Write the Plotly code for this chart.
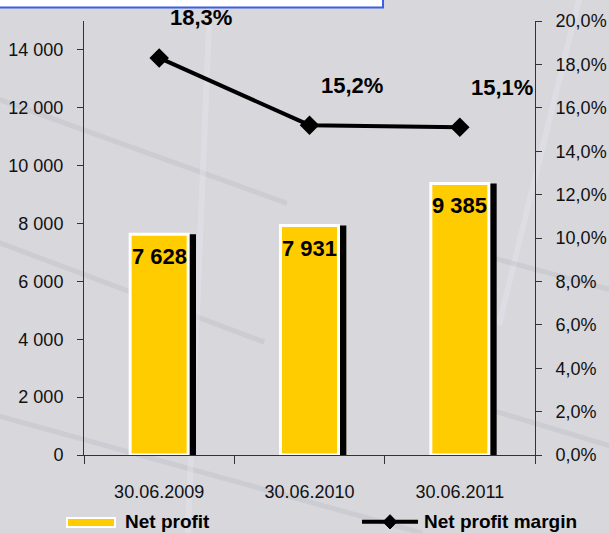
import plotly.graph_objects as go

# Chart data
periods = ["30.06.2009", "30.06.2010", "30.06.2011"]
net_profit = [7628, 7931, 9385]
profit_margin = [0.183, 0.152, 0.151]
left_ticks = [0, 2000, 4000, 6000, 8000, 10000, 12000, 14000]
right_ticks = [0, 0.02, 0.04, 0.06, 0.08, 0.10, 0.12, 0.14, 0.16, 0.18, 0.20]
series_names = ["Net profit", "Net profit margin"]

FONT = "Liberation Sans, Arial, sans-serif"
YELLOW = "#FFCC00"
BG = "#d7d7dc"

fig = go.Figure()

# Black drop shadow on the right side of each bar
fig.add_trace(go.Bar(
    x=periods, y=net_profit, width=0.05, offset=0.195,
    marker=dict(color="black", line=dict(width=0)),
    showlegend=False, hoverinfo="skip",
))

# Net profit bars
fig.add_trace(go.Bar(
    x=periods, y=net_profit, width=0.386, offset=-0.193,
    name=series_names[0],
    marker=dict(color=YELLOW, line=dict(color="white", width=3)),
    showlegend=False,
))

# Net profit margin line on the secondary axis
fig.add_trace(go.Scatter(
    x=periods, y=profit_margin, yaxis="y2", mode="lines+markers",
    name=series_names[1],
    line=dict(color="black", width=4),
    marker=dict(symbol="diamond", size=15, color="black"),
    showlegend=False,
))

label_font = dict(family=FONT, size=22, color="black", weight="bold")
annotations = []
for p, v in zip(periods, net_profit):
    annotations.append(dict(
        x=p, y=v, xref="x", yref="y", yanchor="top", yshift=-8,
        text=f"{v:,}".replace(",", " "), showarrow=False, font=label_font,
    ))
for p, m in zip(periods, profit_margin):
    annotations.append(dict(
        x=p, y=m, xref="x", yref="y2", xshift=42, yshift=40,
        text=f"{m * 100:.1f}%".replace(".", ","), showarrow=False, font=label_font,
    ))

# Legend drawn along the bottom edge (paper coordinates)
legend_font = dict(family=FONT, size=19, color="black", weight="bold")
LEG_Y = -0.154
annotations += [
    dict(x=0.086, y=LEG_Y, xref="paper", yref="paper", xanchor="left", yanchor="middle",
         text=series_names[0], showarrow=False, font=legend_font),
    dict(x=0.749, y=LEG_Y, xref="paper", yref="paper", xanchor="left", yanchor="middle",
         text=series_names[1], showarrow=False, font=legend_font),
]

# Soft streaks in the backdrop
streak = dict(color="rgba(180,180,192,0.30)", width=5)
light = dict(color="rgba(232,232,242,0.35)", width=6)
shapes = [
    dict(type="line", xref="paper", yref="paper", x0=-0.19, y0=0.82, x1=0.45, y1=0.58, line=streak, layer="below"),
    dict(type="line", xref="paper", yref="paper", x0=-0.19, y0=0.49, x1=0.40, y1=0.26, line=streak, layer="below"),
    dict(type="line", xref="paper", yref="paper", x0=-0.19, y0=0.09, x1=0.75, y1=-0.18, line=streak, layer="below"),
    dict(type="line", xref="paper", yref="paper", x0=0.28, y0=1.06, x1=0.23, y1=-0.18, line=light, layer="below"),
    dict(type="line", xref="paper", yref="paper", x0=1.1, y0=1.06, x1=0.92, y1=0.3, line=light, layer="below"),
    dict(type="line", xref="paper", yref="paper", x0=0.85, y0=0.47, x1=1.17, y1=0.38, line=streak, layer="below"),
    dict(type="line", xref="paper", yref="paper", x0=0.85, y0=0.12, x1=1.17, y1=0.02, line=streak, layer="below"),
    # title box peeking in at the top edge
    dict(type="rect", xref="paper", yref="paper", x0=-0.2, y0=1.031, x1=0.663, y1=1.2,
         fillcolor="white", line=dict(color="#3b5ee6", width=2)),
    # legend keys
    dict(type="rect", xref="paper", yref="paper", x0=-0.0377, y0=-0.1452, x1=0.0687, y1=-0.1659,
         fillcolor=YELLOW, line=dict(color="white", width=2)),
    dict(type="line", xref="paper", yref="paper", x0=0.6164, y0=LEG_Y, x1=0.7406, y1=LEG_Y,
         line=dict(color="black", width=4)),
    dict(type="path", xref="paper", yref="paper",
         path=f"M 0.6630 {LEG_Y} L 0.6785 {LEG_Y + 0.0165} L 0.6940 {LEG_Y} L 0.6785 {LEG_Y - 0.0165} Z",
         fillcolor="black", line=dict(color="black", width=1)),
]

axis_font = dict(family=FONT, size=18, color="#111111")

fig.update_layout(
    width=609, height=533,
    margin=dict(l=84, r=74, t=21, b=78, autoexpand=False),
    paper_bgcolor=BG, plot_bgcolor="rgba(0,0,0,0)",
    separators=", ",
    barmode="overlay",
    showlegend=False,
    font=dict(family=FONT, color="#111111"),
    xaxis=dict(
        type="category", range=[-0.5, 2.5],
        showline=True, linecolor="#333333", linewidth=1,
        ticks="outside", tickson="boundaries", ticklen=8, tickcolor="#333333",
        tickfont=axis_font, ticklabelstandoff=20, showgrid=False, zeroline=False,
    ),
    yaxis=dict(
        range=[0, 15000], tickvals=left_ticks, tickformat=",d",
        showline=True, linecolor="#333333", linewidth=1,
        ticks="outside", ticklen=6, tickcolor="#333333",
        tickfont=axis_font, ticklabelstandoff=10, showgrid=False, zeroline=False,
    ),
    yaxis2=dict(
        range=[0, 0.2], tickvals=right_ticks, tickformat=".1%",
        overlaying="y", side="right", anchor="x",
        showline=True, linecolor="#333333", linewidth=1,
        ticks="outside", ticklen=6, tickcolor="#333333",
        tickfont=axis_font, ticklabelstandoff=10, showgrid=False, zeroline=False,
    ),
    # inner halves of the crossing tick marks
    yaxis3=dict(
        range=[0, 15000], tickvals=left_ticks, overlaying="y", side="left", anchor="x",
        ticks="inside", ticklen=6, tickcolor="#333333", showticklabels=False,
        showline=False, showgrid=False, zeroline=False,
    ),
    yaxis4=dict(
        range=[0, 0.2], tickvals=right_ticks, overlaying="y", side="right", anchor="x",
        ticks="inside", ticklen=6, tickcolor="#333333", showticklabels=False,
        showline=False, showgrid=False, zeroline=False,
    ),
    annotations=annotations,
    shapes=shapes,
)

fig.write_html("out.html")
